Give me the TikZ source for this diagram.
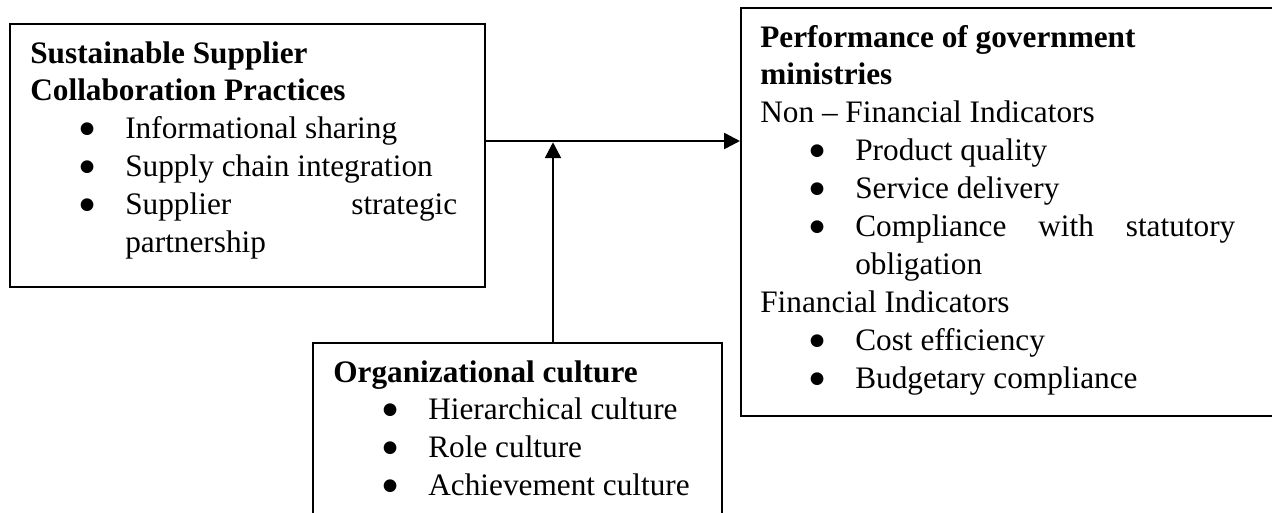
\documentclass[tikz,border=0pt]{standalone}
\usepackage{fontspec}
\setmainfont{Liberation Serif}
\newfontfamily\symfont{DejaVu Sans}
\usetikzlibrary{arrows.meta}

% bullet line with hanging indent
\newcommand{\dotitem}{\par\hangindent=1.9cm\hangafter=0\noindent
  \llap{\raisebox{3pt}{\symfont\fontsize{9.5}{9.5}\selectfont ●}\hspace{0.62cm}}}

\begin{document}
\begin{tikzpicture}[x=0.02cm, y=-0.02cm,
    box/.style={draw, line width=1pt, inner sep=0pt, anchor=north west},
    boxtext/.style={anchor=base west, inner sep=0pt, align=justify, font=\fontsize{17.8}{21.6}\selectfont},
    link/.style={line width=1.4pt, -{Triangle[length=9pt,width=9pt]}}]
\useasboundingbox (0,0) rectangle (1272,512);
\clip (0,0) rectangle (1272,512);

% Boxes
\node[box, minimum width=9.5cm, minimum height=5.26cm] (ssc) at (9,23) {};
\node[box, minimum width=11cm, minimum height=8.16cm] (perf) at (740,7) {};
\node[box, minimum width=8.18cm, minimum height=3.76cm] (org) at (312,342) {};

% Texts
\node[boxtext, text width=8.54cm] (ssctext) at (30,63) {%
  \textbf{Sustainable Supplier\\Collaboration Practices}
  \dotitem Informational sharing
  \dotitem Supply chain integration
  \dotitem Supplier\hfill strategic\newline partnership\par};

\node[boxtext, text width=9.5cm] (perftext) at (760,47) {%
  \textbf{Performance of government\\ministries}\par
  Non -- Financial Indicators
  \dotitem Product quality
  \dotitem Service delivery
  \dotitem Compliance\hfill with\hfill statutory\newline obligation
  \par Financial Indicators
  \dotitem Cost efficiency
  \dotitem Budgetary compliance\par};

\node[boxtext, text width=7.4cm] (orgtext) at (333,382) {%
  \textbf{Organizational culture}
  \dotitem Hierarchical culture
  \dotitem Role culture
  \dotitem Achievement culture\par};

% Arrows
\coordinate (mid) at (553,141);
\draw[link] (ssc.east |- mid) -- (perf.west |- mid);
\draw[link] (org.north -| mid) -- ([yshift=-0.7pt]mid);
\end{tikzpicture}
\end{document}
